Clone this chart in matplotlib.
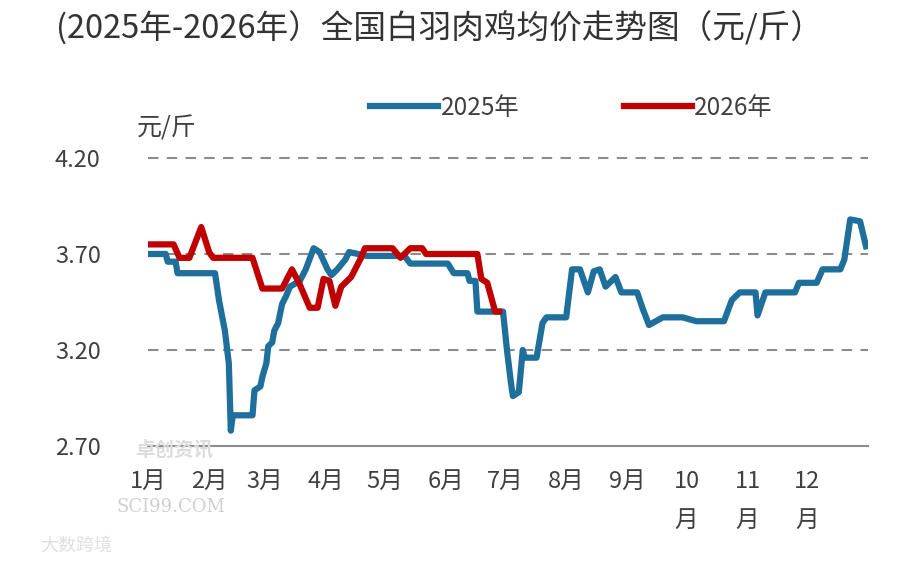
import matplotlib
matplotlib.use("Agg")
import matplotlib.pyplot as plt

plt.rcParams['font.family'] = ['Noto Sans CJK SC', 'DejaVu Sans']

# ------------------ Data ------------------
# day of year -> price (元/斤)
days_2025 = [0, 9, 10, 14, 15, 34, 36, 39, 41, 42, 43, 53, 54, 57, 58, 60, 61, 63, 64, 66,
             68, 70, 72, 77, 80, 84, 87, 91, 93, 96, 100, 102, 111, 130, 133, 152, 155, 162,
             163, 166, 167, 180, 182, 184, 185, 188, 190, 191, 197, 200, 202, 212, 215, 219,
             223, 226, 229, 232, 237, 240, 248, 251, 254, 261, 271, 278, 292, 296, 300, 308,
             309, 313, 328, 330, 339, 342, 351, 353, 356, 361, 364]
price_2025 = [3.70, 3.70, 3.66, 3.66, 3.60, 3.60, 3.46, 3.30, 3.13, 2.78, 2.86, 2.86, 2.99,
              3.01, 3.06, 3.13, 3.22, 3.24, 3.30, 3.34, 3.44, 3.48, 3.53, 3.56, 3.62, 3.73,
              3.71, 3.62, 3.59, 3.62, 3.67, 3.71, 3.69, 3.69, 3.65, 3.65, 3.60, 3.60, 3.56,
              3.56, 3.40, 3.40, 3.20, 3.03, 2.96, 2.98, 3.20, 3.16, 3.16, 3.34, 3.37, 3.37,
              3.62, 3.62, 3.50, 3.61, 3.62, 3.53, 3.58, 3.50, 3.50, 3.41, 3.33, 3.37, 3.37,
              3.35, 3.35, 3.46, 3.50, 3.50, 3.38, 3.50, 3.50, 3.55, 3.55, 3.62, 3.62, 3.67,
              3.88, 3.87, 3.74]

days_2026 = [0, 13, 16, 21, 27, 31, 33, 53, 58, 68, 73, 77, 82, 86, 89, 92, 95, 98, 103,
             108, 110, 124, 128, 133, 139, 141, 167, 169, 172, 176, 178]
price_2026 = [3.75, 3.75, 3.68, 3.68, 3.84, 3.71, 3.68, 3.68, 3.52, 3.52, 3.62, 3.54, 3.42,
              3.42, 3.57, 3.56, 3.43, 3.53, 3.58, 3.68, 3.73, 3.73, 3.68, 3.73, 3.73, 3.70,
              3.70, 3.57, 3.55, 3.40, 3.40]

month_starts = [0, 31, 59, 90, 120, 151, 181, 212, 243, 273, 304, 334]
month_labels = ['1月', '2月', '3月', '4月', '5月', '6月', '7月', '8月', '9月',
                '10\n月', '11\n月', '12\n月']
y_ticks = [2.70, 3.20, 3.70, 4.20]

# ------------------ Figure ------------------
fig = plt.figure(figsize=(9, 5.62), dpi=100)
ax = fig.add_axes([0.1644, 0.2064, 0.8, 0.5125])

for y in y_ticks[1:]:
    ax.axhline(y, color='#8c8c8c', lw=1.5, ls=(0, (5, 4)), zorder=1, clip_on=False)

ax.plot(days_2025, price_2025, color='#1f6f9c', lw=4.5, label='2025年',
        solid_joinstyle='round', zorder=3)
ax.plot(days_2026, price_2026, color='#c00000', lw=4.5, label='2026年',
        solid_joinstyle='round', zorder=4)

ax.set_xlim(0, 365)
ax.set_ylim(2.70, 4.20)
ax.set_yticks(y_ticks)
ax.set_yticklabels([f'{v:.2f}' for v in y_ticks])
ax.set_xticks(month_starts)
ax.set_xticklabels(month_labels, va='top', linespacing=1.9)
ax.tick_params(axis='y', length=0, pad=34, labelsize=17, labelcolor='#404040')
ax.tick_params(axis='x', length=0, pad=17, labelsize=17, labelcolor='#404040')

for s in ['top', 'right', 'left']:
    ax.spines[s].set_visible(False)
ax.spines['bottom'].set_color('#8c8c8c')
ax.spines['bottom'].set_linewidth(1.5)

# ------------------ Texts ------------------
fig.text(0.488, 0.95, '(2025年-2026年）全国白羽肉鸡均价走势图（元/斤）',
         ha='center', va='center', fontsize=23.5, color='#333333')
fig.text(0.152, 0.772, '元/斤', ha='left', va='center', fontsize=18, color='#404040')

fig.legend(loc='center', bbox_to_anchor=(0.635, 0.808), ncol=2, frameon=False,
           fontsize=17.5, handlelength=2.8, handletextpad=0.1, columnspacing=4.3,
           labelcolor='#404040')

# watermarks
fig.text(0.15, 0.2, '卓创资讯', fontsize=14, color='#dcdcdc', ha='left', va='center',
         zorder=0, fontweight='bold')
fig.text(0.13, 0.097, 'SCI99.COM', fontsize=13, color='#d0d0d0', ha='left', va='center',
         family='DejaVu Serif', zorder=0)
fig.text(0.045, 0.03, '大数跨境', fontsize=13, color='#e0e0e0', ha='left', va='center')

fig.savefig('out.png', dpi=100)
